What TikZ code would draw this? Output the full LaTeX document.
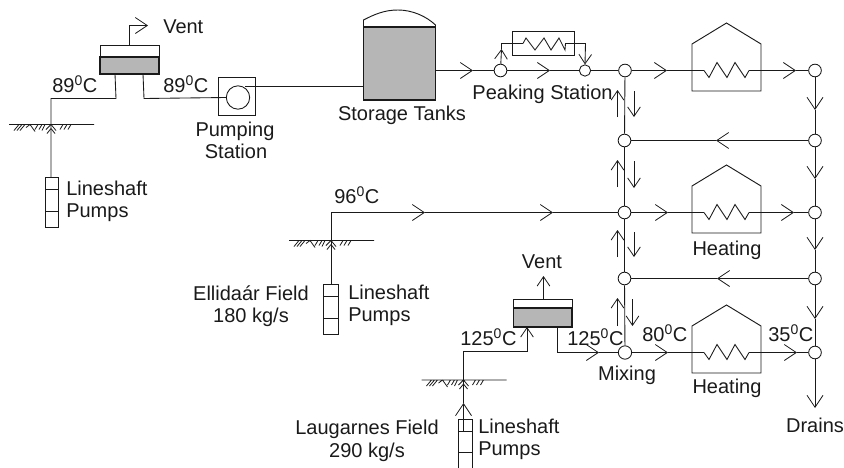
\documentclass[tikz,border=0pt]{standalone}
\usepackage{fontspec}
\setmainfont{Liberation Sans}
\usetikzlibrary{arrows.meta}
\definecolor{ink}{HTML}{1A1A1A}
\definecolor{shade}{HTML}{B6B6B6}
\newcommand{\dC}[1]{#1\textsuperscript{0}C}
\tikzset{
  x=0.75pt,y=-0.75pt,
  pipe/.style={draw=ink,line width=0.65pt,line join=miter},
  flow/.style={pipe,-{Straight Barb[length=9pt,width=12pt,line width=0.6pt]}},
  flowsmall/.style={pipe,-{Straight Barb[length=7pt,width=9.5pt,line width=0.6pt]}},
  joint/.style={circle,draw=ink,fill=white,line width=0.65pt,minimum size=9.5pt,inner sep=0pt},
  label/.style={inner sep=0pt,font=\fontsize{15}{18}\selectfont,text=ink},
  shaded/.style={draw=ink,line width=0.8pt,fill=shade},
  plain/.style={draw=ink,line width=0.7pt,fill=white},
  pics/ground/.style={code={
    \draw[pipe,line width=0.6pt]
      (-42,0) -- (43,0)
      (-32,0) -- (-37,6) (-29,0) -- (-34,6) (-26,0) -- (-31,6)
      (-25,3) -- (-21,0) -- (-16,7)
      (-13,0) -- (-16,5) (-9,0) -- (-12,5)
      (-6,0) -- (-9,6) (-5,5) -- (0,0) -- (5,6) (0,4) -- (-4,9) (0,4) -- (4,9)
      (12,0) -- (9,5) (16,0) -- (13,5) (20,0) -- (17,5);
  }},
  pics/zigzag/.style={code={
    \draw[pipe] (0,0) -- (5,7) -- (13,-8) -- (23,7) -- (31,-8) -- (41,7) -- (45,0);
  }}
}
\begin{document}
\begin{tikzpicture}
\useasboundingbox (0,0) rectangle (844,468);
% --- first field
\path pic at (51,124.5) {ground};
\draw[plain] (45,177.5) rectangle (58,227.5);
\draw[pipe] (45,189.5) -- (58,189.5) (45,211.5) -- (58,211.5);
\coordinate (wellA) at (51,177.5);
\coordinate (bendA) at (51,98.5);
\coordinate (legA) at (116,98.5);
\coordinate (tankAl) at (115,74);
\draw[pipe] (wellA) -- (bendA) -- (legA) -- (tankAl);
\node[label,anchor=base west] (lineA) at (66,195) {Lineshaft};
\node[label,anchor=base west] (pumpA) at (66,217) {Pumps};
\node[label,anchor=base west] (tempA) at (52,92) {\dC{89}};
\node[label,anchor=base west] (tempB) at (163,92) {\dC{89}};
% flash tank A
\draw[plain] (100,45) rectangle (159,57);
\draw[shaded] (100,57) rectangle (159,74);
\coordinate (ventA0) at (129.5,45);
\coordinate (ventA1) at (129.5,25.5);
\coordinate (ventA2) at (148,25.5);
\draw[flow] (ventA0) -- (ventA1) -- (ventA2);
\node[label,anchor=base west] (ventA) at (163,33) {Vent};
% pumping station
\node[draw=ink,line width=0.7pt,minimum width=27.5pt,minimum height=28pt,inner sep=0pt] (pst) at (237,96.5) {};
\node[circle,draw=ink,line width=0.65pt,fill=white,minimum size=17.5pt,inner sep=0pt] (pump) at (238,97.5) {};
\coordinate (tankAr) at (143,74);
\coordinate (legB) at (144,98.5);
\draw[pipe] (tankAr) -- (legB) -- (pump.west);
\node[label,anchor=base] (pstA) at (235,136) {Pumping};
\node[label,anchor=base] (pstB) at (236,158) {Station};
% storage tank
\draw[plain] (363.5,27) -- (363.5,20) .. controls (375,14) and (385,10) .. (398,10) .. controls (412,10) and (426,16) .. (435.5,25) -- (435.5,27);
\draw[shaded] (363.5,27) rectangle (435.5,100);
\coordinate (stIn) at (363.5,86.5);
\coordinate (pumpOut) at (245,86.5);
\draw[pipe] (pumpOut) -- (stIn);
\node[label,anchor=base] (stL) at (402,120) {Storage Tanks};
% peaking station
\node[joint] (pA) at (500.5,70.5) {};
\node[joint,minimum size=8.5pt] (pB) at (585,70.5) {};
\coordinate (stOut) at (435.5,70.5);
\coordinate (tA) at (473,70.5);
\coordinate (tB) at (550,70.5);
\draw[flow] (stOut) -- (tA);
\draw[pipe] (tA) -- (pA);
\draw[flow] (pA) -- (tB);
\draw[pipe] (tB) -- (pB);
\draw[plain,fill=none] (512.5,31.5) rectangle (574.5,55.5);
\coordinate (byA) at (501.5,43.5);
\coordinate (byB) at (523,43.5);
\coordinate (byC) at (565,43.5);
\coordinate (byD) at (585.5,43.5);
\coordinate (tUp) at (501.5,49);
\draw[flowsmall] (pA) -- (tUp);
\draw[pipe] (tUp) -- (byA) -- (byB);
\draw[pipe] (523,43.5) -- (526,38) -- (535,50) -- (544,38) -- (551,50) -- (559,38) -- (565,50) -- (565.5,43.5);
\draw[pipe] (byC) -- (byD);
\draw[flowsmall] (byD) -- (pB.north);
\node[label,anchor=base] (pkL) at (542.5,99) {Peaking Station};
% junction columns
\node[joint] (L1) at (625,70.5) {};
\node[joint] (L2) at (624.5,140.5) {};
\node[joint] (L3) at (624.5,212.5) {};
\node[joint] (L4) at (624.5,278.5) {};
\node[joint,minimum size=10pt] (L5) at (625,352.5) {};
\node[joint] (R1) at (815,70.5) {};
\node[joint] (R2) at (815,140.5) {};
\node[joint] (R3) at (815,212.5) {};
\node[joint] (R4) at (815,278.5) {};
\node[joint] (R5) at (815,352.5) {};
\draw[pipe] (pB) -- (L1);
\draw[pipe] (L1) -- (L2);
\draw[pipe] (L2) -- (L3);
\draw[pipe] (L3) -- (L4);
\draw[pipe] (L4) -- (L5);
% right column
\coordinate (d1) at (815,110);
\coordinate (d2) at (815,179);
\coordinate (d3) at (815,250);
\coordinate (d4) at (815,319);
\coordinate (d5) at (815,408);
\draw[flow] (R1) -- (d1); \draw[pipe] (d1) -- (R2);
\draw[flow] (R2) -- (d2); \draw[pipe] (d2) -- (R3);
\draw[flow] (R3) -- (d3); \draw[pipe] (d3) -- (R4);
\draw[flow] (R4) -- (d4); \draw[pipe] (d4) -- (R5);
\draw[flow] (R5) -- (d5);
\node[label,anchor=base] (drains) at (815,432) {Drains};
% cross links
\coordinate (x1) at (716,140.5);
\coordinate (x2) at (717,278.5);
\draw[flow] (R2) -- (x1); \draw[pipe] (x1) -- (L2);
\draw[flow] (R4) -- (x2); \draw[pipe] (x2) -- (L4);
% side arrows
\foreach \xa/\ya/\xb/\yb in {617.5/117/617.5/90, 617.5/187/617.5/160, 617.5/257/617.5/230, 617.5/326/617.5/298,
  634/91/634/117, 634/161/634/188, 634/232/634/257, 632.5/299/632.5/326}
  \draw[flowsmall] (\xa,\ya) -- (\xb,\yb);
% heating rows
\foreach \yy in {70.5,212.5,352.5}{
  \draw[plain,fill=none] (692,\yy-26.5) -- (726.5,\yy-47.5) -- (761,\yy-26.5) -- (761,\yy+20.5) -- (692,\yy+20.5) -- cycle;
  \path pic at (704,\yy) {zigzag};
}
\coordinate (h1a) at (704,70.5); \coordinate (h1b) at (749,70.5);
\coordinate (h2a) at (704,212.5); \coordinate (h2b) at (749,212.5);
\coordinate (h3a) at (704,352.5); \coordinate (h3b) at (749,352.5);
\coordinate (a1) at (667,70.5); \coordinate (a2) at (796,70.5);
\coordinate (a3) at (668,212.5); \coordinate (a4) at (794,212.5);
\coordinate (a5) at (668,352.5); \coordinate (a6) at (797,352.5);
\draw[flow] (L1) -- (a1); \draw[pipe] (a1) -- (h1a);
\draw[flow] (h1b) -- (a2); \draw[pipe] (a2) -- (R1);
\draw[flow] (L3) -- (a3); \draw[pipe] (a3) -- (h2a);
\draw[flow] (h2b) -- (a4); \draw[pipe] (a4) -- (R3);
\draw[flow] (L5) -- (a5); \draw[pipe] (a5) -- (h3a);
\draw[flow] (h3b) -- (a6); \draw[pipe] (a6) -- (R5);
\node[label,anchor=base] (heatB) at (727,255) {Heating};
\node[label,anchor=base] (heatC) at (727,393) {Heating};
\node[label,anchor=base] (mix) at (627,380) {Mixing};
\node[label,anchor=base west] (t80) at (642,341) {\dC{80}};
\node[label,anchor=base west] (t35) at (768,341) {\dC{35}};
% Ellidaar field
\path pic at (331,240.5) {ground};
\draw[plain] (323.5,284.5) rectangle (338,334.5);
\draw[pipe] (323.5,296.5) -- (338,296.5) (323.5,318.5) -- (338,318.5);
\coordinate (wellB) at (331,284.5);
\coordinate (bendB) at (331,212.5);
\coordinate (b1) at (425,212.5);
\coordinate (b2) at (553,212.5);
\draw[pipe] (wellB) -- (bendB);
\draw[flow] (bendB) -- (b1);
\draw[flow] (b1) -- (b2);
\draw[pipe] (b2) -- (L3);
\node[label,anchor=base west] (t96) at (334,203) {\dC{96}};
\node[label,anchor=base west] (lineB) at (348,299) {Lineshaft};
\node[label,anchor=base west] (pumpB) at (348,321) {Pumps};
\node[label,anchor=base] (fieldB) at (251,300) {Ellidaár Field};
\node[label,anchor=base] (massB) at (251,322) {180 kg/s};
% Laugarnes field
\path pic at (463.5,380) {ground};
\draw[pipe] (458,468) -- (458,419) -- (472,419) -- (472,468);
\draw[pipe] (458,431) -- (472,431) (458,452) -- (472,452);
\coordinate (wellC) at (463.5,431);
\coordinate (c0) at (463.5,403);
\coordinate (c1) at (463.5,351.5);
\coordinate (c2) at (527,351.5);
\coordinate (c3) at (527,327);
\draw[flow] (wellC) -- (c0);
\draw[pipe] (c0) -- (c1) -- (c2);
\draw[flowsmall] (c2) -- (c3);
\node[label,anchor=base west] (lineC) at (478,433) {Lineshaft};
\node[label,anchor=base west] (pumpC) at (478,455) {Pumps};
\node[label,anchor=base] (fieldC) at (367,434) {Laugarnes Field};
\node[label,anchor=base] (massC) at (367,457) {290 kg/s};
\node[label,anchor=base west] (t125a) at (460,345) {\dC{125}};
\node[label,anchor=base west] (t125b) at (567,345) {\dC{125}};
% flash tank C
\draw[plain] (513.5,299) rectangle (572,308);
\draw[shaded] (513.5,308) rectangle (572,327);
\coordinate (ventC0) at (543.5,299);
\coordinate (ventC1) at (543.5,276);
\draw[flowsmall] (ventC0) -- (ventC1);
\node[label,anchor=base] (ventC) at (542,268) {Vent};
\coordinate (outC) at (557,327);
\coordinate (outC1) at (557,352.5);
\coordinate (a0) at (599,352.5);
\draw[pipe] (outC) -- (outC1);
\draw[flow] (outC1) -- (a0);
\draw[pipe] (a0) -- (L5);
\end{tikzpicture}
\end{document}
